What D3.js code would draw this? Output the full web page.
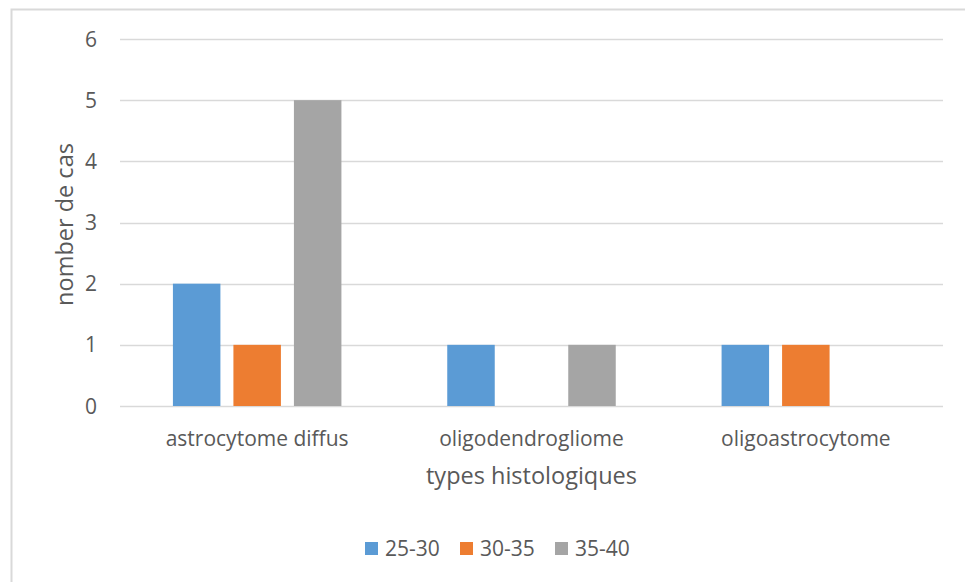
<!DOCTYPE html>
<html>
<head>
<meta charset="utf-8">
<script src="https://cdn.jsdelivr.net/npm/d3@7"></script>
<style>
  html, body { margin: 0; padding: 0; background: #fff; }
  svg { display: block; font-family: "Open Sans", "Noto Sans", sans-serif; }
</style>
</head>
<body>
<svg id="chart" width="965" height="582"></svg>
<script>
// Histological types by age group
const categories = ["astrocytome diffus", "oligodendrogliome", "oligoastrocytome"];
const seriesNames = ["25-30", "30-35", "35-40"];
const values2530 = [2, 1, 1];
const values3035 = [1, 0, 1];
const values3540 = [5, 1, 0];
const yTicks = [0, 1, 2, 3, 4, 5, 6];
const colors = ["#5B9BD5", "#ED7D31", "#A5A5A5"];

const seriesValues = [values2530, values3035, values3540];
const rows = categories.map((c, i) => ({
  category: c,
  values: seriesNames.map((s, j) => ({ series: s, value: seriesValues[j][i], color: colors[j] }))
}));

const svg = d3.select("#chart");
const textColor = "#595959";

// outer frame
svg.append("path")
  .attr("d", "M11.5,582 L11.5,9.5 L965,9.5")
  .attr("fill", "none")
  .attr("stroke", "#d9d9d9")
  .attr("stroke-width", 2);

const plot = { left: 120, right: 943, top: 39, bottom: 406 };

const x0 = d3.scaleBand().domain(categories).range([plot.left, plot.right]).padding(0);
const groupWidth = 168.5;
const x1 = d3.scaleBand().domain(seriesNames).range([0, groupWidth]).paddingInner(0.215).paddingOuter(0);
const y = d3.scaleLinear().domain([0, 6]).range([plot.bottom, plot.top]);

// gridlines
svg.append("g").selectAll("line").data(yTicks).join("line")
  .attr("x1", plot.left).attr("x2", plot.right)
  .attr("y1", d => Math.round(y(d)) + 0.5).attr("y2", d => Math.round(y(d)) + 0.5)
  .attr("stroke", "#d9d9d9").attr("stroke-width", 1.5);

// y tick labels
svg.append("g").selectAll("text").data(yTicks).join("text")
  .attr("x", 97).attr("y", d => y(d))
  .attr("dy", "0.36em")
  .attr("text-anchor", "end")
  .attr("font-size", 21)
  .attr("fill", textColor)
  .text(d => d);

// bars
const groups = svg.append("g").selectAll("g").data(rows).join("g")
  .attr("transform", d => `translate(${x0(d.category) + (x0.bandwidth() - groupWidth) / 2},0)`);

groups.selectAll("rect").data(d => d.values.filter(v => v.value > 0)).join("rect")
  .attr("x", d => x1(d.series))
  .attr("y", d => y(d.value))
  .attr("width", x1.bandwidth())
  .attr("height", d => y(0) - y(d.value))
  .attr("fill", d => d.color);

// category labels
svg.append("g").selectAll("text").data(categories).join("text")
  .attr("x", d => x0(d) + x0.bandwidth() / 2)
  .attr("y", 446)
  .attr("text-anchor", "middle")
  .attr("font-size", 21)
  .attr("fill", textColor)
  .text(d => d);

// axis titles
svg.append("text")
  .attr("x", (plot.left + plot.right) / 2).attr("y", 484)
  .attr("text-anchor", "middle")
  .attr("font-size", 23.5)
  .attr("fill", textColor)
  .text("types histologiques");

svg.append("text")
  .attr("transform", `translate(73,${(plot.top + plot.bottom) / 2 + 2}) rotate(-90)`)
  .attr("text-anchor", "middle")
  .attr("font-size", 23.5)
  .attr("fill", textColor)
  .text("nomber de cas");

// legend
const legendX = [365, 460, 555];
const legend = svg.append("g").selectAll("g").data(seriesNames).join("g")
  .attr("transform", (d, i) => `translate(${legendX[i]},542)`);
legend.append("rect").attr("width", 13).attr("height", 13).attr("fill", (d, i) => colors[i]);
legend.append("text")
  .attr("x", 20).attr("y", 6.5).attr("dy", "0.36em")
  .attr("font-size", 21)
  .attr("fill", textColor)
  .text(d => d);
</script>
</body>
</html>
